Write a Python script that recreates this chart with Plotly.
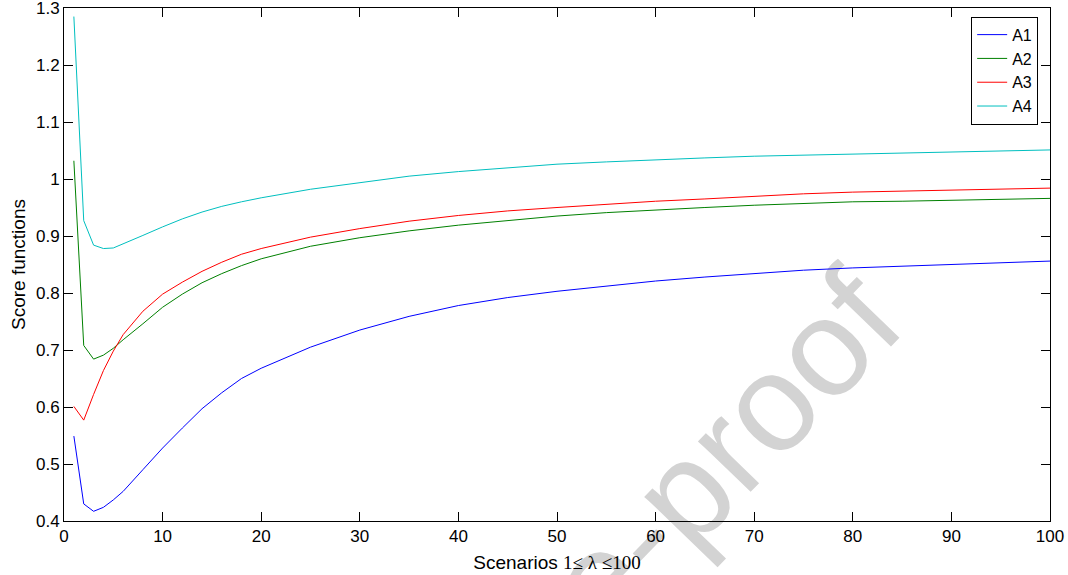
import plotly.graph_objects as go

x_vals = [1, 2, 3, 4, 5, 6, 8, 10, 12, 14, 16, 18, 20, 25, 30, 35, 40, 45, 50,
          55, 60, 65, 70, 75, 80, 85, 90, 95, 100]

a1 = [0.549, 0.430, 0.417, 0.424, 0.437, 0.452, 0.490, 0.528, 0.563, 0.597, 0.625,
      0.650, 0.668, 0.705, 0.735, 0.759, 0.778, 0.792, 0.803, 0.812, 0.821, 0.828,
      0.834, 0.840, 0.844, 0.847, 0.850, 0.853, 0.856]
a2 = [1.032, 0.708, 0.684, 0.691, 0.703, 0.718, 0.746, 0.775, 0.798, 0.818, 0.834,
      0.848, 0.860, 0.882, 0.897, 0.909, 0.919, 0.927, 0.935, 0.941, 0.946, 0.950,
      0.954, 0.957, 0.960, 0.961, 0.963, 0.965, 0.966]
a3 = [0.601, 0.577, 0.622, 0.664, 0.698, 0.727, 0.768, 0.798, 0.819, 0.838, 0.854,
      0.868, 0.878, 0.898, 0.913, 0.926, 0.936, 0.944, 0.950, 0.956, 0.961, 0.965,
      0.970, 0.974, 0.977, 0.979, 0.981, 0.983, 0.984]
a4 = [1.285, 0.927, 0.884, 0.878, 0.879, 0.886, 0.901, 0.916, 0.930, 0.942, 0.952,
      0.960, 0.967, 0.982, 0.994, 1.005, 1.013, 1.020, 1.026, 1.030, 1.034, 1.037,
      1.040, 1.042, 1.044, 1.046, 1.048, 1.049, 1.051]

series_names = ["A1", "A2", "A3", "A4"]
series_colors = ["#0000ff", "#008000", "#ff0000", "#00bfbf"]

x_ticks = [0, 10, 20, 30, 40, 50, 60, 70, 80, 90, 100]
y_ticks = [0.4, 0.5, 0.6, 0.7, 0.8, 0.9, 1.0, 1.1, 1.2, 1.3]
y_ticktext = ["0.4", "0.5", "0.6", "0.7", "0.8", "0.9", "1", "1.1", "1.2", "1.3"]

FONT = "Liberation Sans, Arial, sans-serif"

fig = go.Figure()
for name, ys, col in zip(series_names, [a1, a2, a3, a4], series_colors):
    fig.add_trace(go.Scatter(x=x_vals, y=ys, mode="lines", name=name,
                             line=dict(color=col, width=1)))

axis_common = dict(showline=True, linecolor="black", linewidth=1, mirror="ticks",
                   ticks="inside", ticklen=9, tickcolor="black", tickwidth=1,
                   showgrid=False, zeroline=False, automargin=False,
                   ticklabeloverflow="allow",
                   tickfont=dict(family=FONT, size=17, color="black"))

fig.update_xaxes(range=[0, 100], tickvals=x_ticks, **axis_common,
                 title=dict(text="Scenarios <span style='font-family:Liberation Serif, Times New Roman, serif'>1≤ λ ≤100</span>",
                            font=dict(family=FONT, size=19, color="black"), standoff=10))
fig.update_yaxes(range=[0.4, 1.3], tickvals=y_ticks, ticktext=y_ticktext, **axis_common,
                 title=dict(text="Score functions",
                            font=dict(family=FONT, size=19, color="black"), standoff=5))

fig.add_shape(type="rect", xref="paper", yref="paper",
              x0=0.436, x1=0.438, y0=-0.289, y1=-0.287,
              line=dict(width=0), fillcolor="rgba(0,0,0,0)", layer="below",
              label=dict(text="Journal Pre-proof", textangle=-46,
                         textposition="middle center",
                         font=dict(family=FONT, size=138, color="#d3d3d3")))

fig.update_layout(
    width=1068, height=575,
    margin=dict(l=64, r=18, t=8, b=54),
    paper_bgcolor="white", plot_bgcolor="rgba(0,0,0,0)",
    font=dict(family=FONT, color="black"),
    legend=dict(x=0.988, y=0.983, xanchor="right", yanchor="top",
                bgcolor="white", bordercolor="black", borderwidth=1,
                font=dict(family=FONT, size=16, color="black"),
                tracegroupgap=0, itemwidth=30),
    showlegend=True,
)

fig.write_html("out.html", config={"displayModeBar": False},
               post_script="document.body.style.margin='0';")
